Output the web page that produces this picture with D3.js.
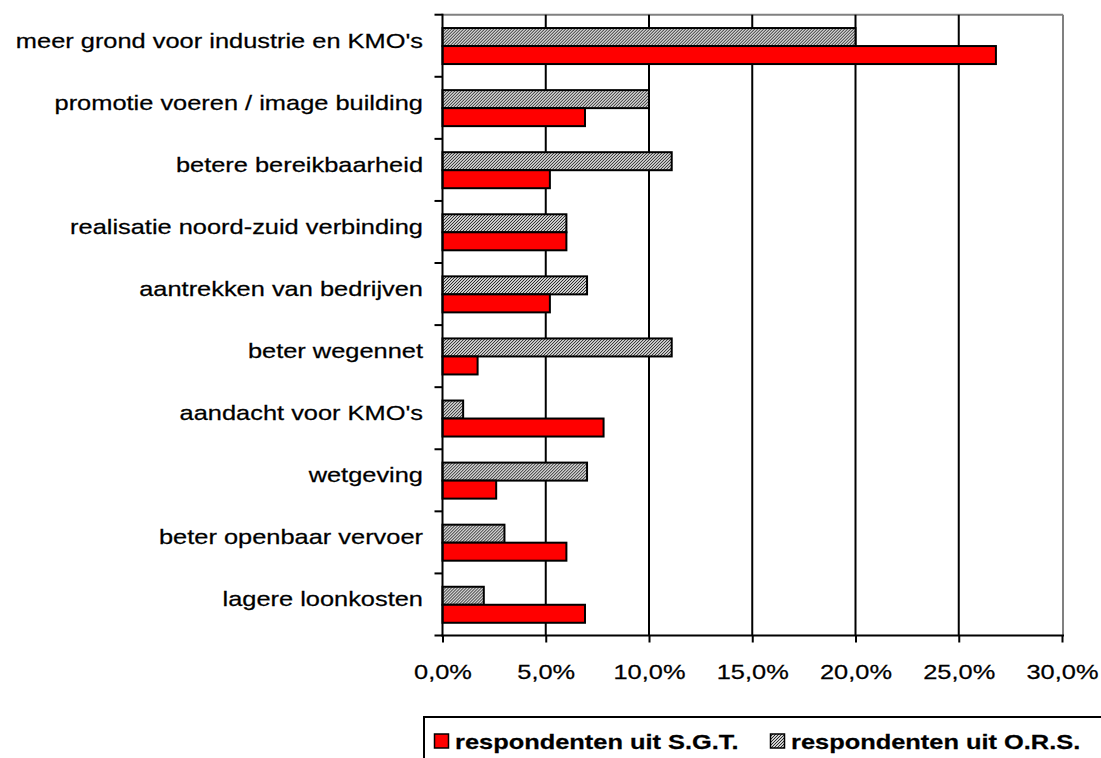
<!DOCTYPE html>
<html>
<head>
<meta charset="utf-8">
<script src="https://cdn.jsdelivr.net/npm/d3@7"></script>
<style>
  html, body { margin: 0; padding: 0; background: #fff; }
  svg { display: block; }
  text { font-family: "Liberation Sans", Arial, sans-serif; fill: #000; stroke: #000; stroke-width: 0.25px; }
</style>
</head>
<body>
<svg id="chart" width="1101" height="758"></svg>
<script>
// Categories, top to bottom
const categories = [
  "meer grond voor industrie en KMO's",
  "promotie voeren / image building",
  "betere bereikbaarheid",
  "realisatie noord-zuid verbinding",
  "aantrekken van bedrijven",
  "beter wegennet",
  "aandacht voor KMO's",
  "wetgeving",
  "beter openbaar vervoer",
  "lagere loonkosten"
];

// Share of respondents (%)
const sgtValues = [26.8, 6.9, 5.2, 6.0, 5.2, 1.7, 7.8, 2.6, 6.0, 6.9];
const orsValues = [20.0, 10.0, 11.1, 6.0, 7.0, 11.1, 1.0, 7.0, 3.0, 2.0];

const seriesNames = ["respondenten uit S.G.T.", "respondenten uit O.R.S."];
const xTicks = [0, 5, 10, 15, 20, 25, 30];

const svg = d3.select("#chart");
const FONT = 21;
const STRETCH = 1.21; // horizontal text stretch

// Fine hatched fill for the O.R.S. series
const defs = svg.append("defs");
const pat = defs.append("pattern")
  .attr("id", "hatch").attr("patternUnits", "userSpaceOnUse")
  .attr("width", 3).attr("height", 3);
pat.append("rect").attr("width", 3).attr("height", 3).attr("fill", "#d0d0d0");
for (let px = 0; px < 3; px++) {
  for (let py = 0; py < 3; py++) {
    if ((px + py) % 3 === 0) {
      pat.append("rect").attr("x", px).attr("y", py).attr("width", 1).attr("height", 1)
        .attr("fill", "#2a2a2a");
    }
  }
}

const plot = { left: 442.5, right: 1062, top: 14.7, bottom: 635.5 };

const x = d3.scaleLinear().domain([0, 30]).range([plot.left, plot.right]);
const y = d3.scaleBand().domain(categories).range([plot.top, plot.bottom]).padding(0);
const yInner = d3.scaleBand().domain(["ors", "sgt"])
  .range([y.bandwidth() * 0.215, y.bandwidth() * 0.795]).padding(0);

// Gray plot border (top and right)
svg.append("line")
  .attr("x1", plot.left).attr("x2", x(30) + 1).attr("y1", plot.top).attr("y2", plot.top)
  .attr("stroke", "#808080").attr("stroke-width", 2);
svg.append("line")
  .attr("x1", x(30) + 1).attr("x2", x(30) + 1).attr("y1", plot.top).attr("y2", plot.bottom)
  .attr("stroke", "#808080").attr("stroke-width", 2);

// Vertical gridlines
svg.append("g").selectAll("line")
  .data(xTicks.filter(d => d > 0 && d < 30))
  .join("line")
  .attr("x1", d => x(d)).attr("x2", d => x(d))
  .attr("y1", plot.top).attr("y2", plot.bottom)
  .attr("stroke", "#000").attr("stroke-width", 2);

// Bars
const groups = svg.append("g").selectAll("g")
  .data(categories.map((c, i) => ({ c, ors: orsValues[i], sgt: sgtValues[i] })))
  .join("g")
  .attr("transform", d => `translate(0,${y(d.c)})`);

groups.append("rect")
  .attr("x", x(0)).attr("y", yInner("ors"))
  .attr("width", d => x(d.ors) - x(0)).attr("height", yInner.bandwidth())
  .attr("fill", "url(#hatch)").attr("stroke", "#000").attr("stroke-width", 2);

groups.append("rect")
  .attr("x", x(0)).attr("y", yInner("sgt"))
  .attr("width", d => x(d.sgt) - x(0)).attr("height", yInner.bandwidth())
  .attr("fill", "#ff0000").attr("stroke", "#000").attr("stroke-width", 2);

// X axis
const xAxis = svg.append("g")
  .attr("transform", `translate(0,${plot.bottom})`)
  .call(d3.axisBottom(x).tickValues(xTicks).tickSize(7).tickSizeOuter(0)
    .tickFormat(d => d3.format(".1f")(d).replace(".", ",") + "%"));
xAxis.select(".domain").attr("stroke", "#000").attr("stroke-width", 2)
  .attr("d", `M${plot.left - 1},0H${x(30) + 2}`);
xAxis.selectAll(".tick line").attr("stroke", "#000").attr("stroke-width", 2);
xAxis.selectAll(".tick text")
  .attr("font-size", FONT).attr("y", 0).attr("dy", 0)
  .attr("transform", `translate(0,43) scale(${STRETCH},1)`);

// Y axis: line, boundary ticks, category labels
const yAxis = svg.append("g").attr("transform", `translate(${plot.left},0)`);
yAxis.append("line")
  .attr("x1", 0).attr("x2", 0).attr("y1", plot.top - 1).attr("y2", plot.bottom + 1)
  .attr("stroke", "#000").attr("stroke-width", 2);
yAxis.selectAll(".btick")
  .data(categories.map(c => y(c)).concat([plot.bottom]))
  .join("line")
  .attr("class", "btick")
  .attr("x1", -8).attr("x2", 0).attr("y1", d => d).attr("y2", d => d)
  .attr("stroke", "#000").attr("stroke-width", 2);
yAxis.selectAll(".ylabel")
  .data(categories)
  .join("text")
  .attr("class", "ylabel")
  .attr("text-anchor", "end").attr("font-size", FONT)
  .attr("transform", d => `translate(-19.5,${y(d) + y.bandwidth() / 2 + 2}) scale(${STRETCH},1)`)
  .text(d => d);

// Legend
const legend = svg.append("g");
legend.append("rect")
  .attr("x", 424).attr("y", 717).attr("width", 720).attr("height", 80)
  .attr("fill", "#fff").attr("stroke", "#000").attr("stroke-width", 2);

const legendItems = [
  { name: seriesNames[0], fill: "#ff0000", mx: 434.5, tx: 455 },
  { name: seriesNames[1], fill: "url(#hatch)", mx: 770.5, tx: 791 }
];
legend.selectAll(".lmark").data(legendItems).join("rect")
  .attr("class", "lmark")
  .attr("x", d => d.mx).attr("y", 734).attr("width", 14).attr("height", 14)
  .attr("fill", d => d.fill).attr("stroke", "#000").attr("stroke-width", 1.5);
legend.selectAll(".ltext").data(legendItems).join("text")
  .attr("class", "ltext")
  .attr("font-size", FONT).attr("font-weight", "bold")
  .attr("transform", d => `translate(${d.tx},749) scale(${STRETCH},1)`)
  .text(d => d.name);
</script>
</body>
</html>
